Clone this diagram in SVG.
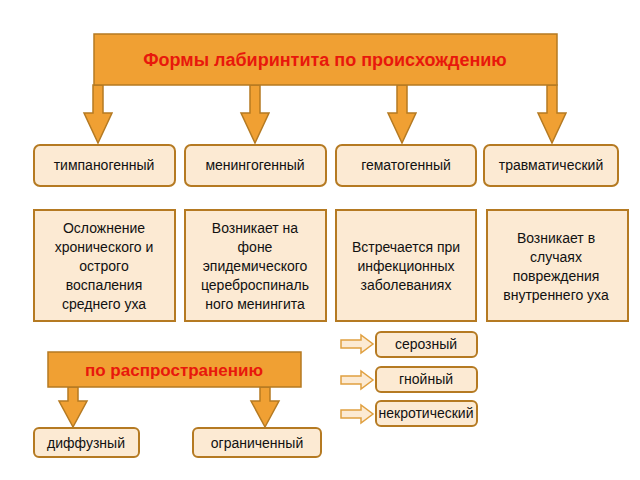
<svg xmlns="http://www.w3.org/2000/svg" width="640" height="480" viewBox="0 0 640 480">
<style>
.hdr{fill:#f0a033;stroke:#b57a22;stroke-width:1.5}
.ht{font-family:"Liberation Sans",Arial,sans-serif;font-weight:bold;fill:#e8180c;text-anchor:middle}
.nb{fill:#fcead3;stroke:#b57a22;stroke-width:2}
.t{font-family:"Liberation Sans",Arial,sans-serif;font-size:14px;fill:#111;text-anchor:middle}
.ar{fill:#f0a033;stroke:#b57a22;stroke-width:1.5}
.oa{fill:#fcead3;stroke:#e0a040;stroke-width:1.5}
</style>
<rect width="640" height="480" fill="#fff"/>
<g id="connectors">
<path class="ar" d="M93,85h10v28h9l-14,30l-14,-30h9z"/>
<path class="ar" d="M250,85h10v28h9l-14,30l-14,-30h9z"/>
<path class="ar" d="M397,85h10v28h9l-14,30l-14,-30h9z"/>
<path class="ar" d="M547,85h10v28h9l-14,30l-14,-30h9z"/>
<path class="ar" d="M68,387h10v14h9l-14,26l-14,-26h9z"/>
<path class="ar" d="M260,387h10v14h9l-14,26l-14,-26h9z"/>
<path class="oa" d="M341,340h20v-5l12,9l-12,9v-5h-20z"/>
<path class="oa" d="M341,376h20v-5l12,9l-12,9v-5h-20z"/>
<path class="oa" d="M341,410h20v-5l12,9l-12,9v-5h-20z"/>
</g>
<g id="title"><rect class="hdr" x="94" y="34" width="463" height="51"/><text class="ht" x="325" y="66" font-size="18">Формы лабиринтита по происхождению</text></g>
<g id="n1"><rect class="nb" x="34" y="145" width="141" height="41" rx="6"/><text class="t" x="104" y="170">тимпаногенный</text></g>
<g id="n2"><rect class="nb" x="185" y="145" width="141" height="41" rx="6"/><text class="t" x="255" y="170">менингогенный</text></g>
<g id="n3"><rect class="nb" x="336" y="145" width="140" height="41" rx="6"/><text class="t" x="406" y="170">гематогенный</text></g>
<g id="n4"><rect class="nb" x="484" y="145" width="134" height="41" rx="6"/><text class="t" x="551" y="170">травматический</text></g>
<g id="d1"><rect class="nb" x="34" y="210" width="141" height="111"/><text class="t" x="104" y="233">Осложнение<tspan x="104" dy="19">хронического и</tspan><tspan x="104" dy="19">острого</tspan><tspan x="104" dy="19">воспаления</tspan><tspan x="104" dy="19">среднего уха</tspan></text></g>
<g id="d2"><rect class="nb" x="185" y="210" width="141" height="111"/><text class="t" x="255" y="233">Возникает на<tspan x="255" dy="19">фоне</tspan><tspan x="255" dy="19">эпидемического</tspan><tspan x="255" dy="19">цереброспиналь</tspan><tspan x="255" dy="19">ного менингита</tspan></text></g>
<g id="d3"><rect class="nb" x="336" y="210" width="140" height="111"/><text class="t" x="406" y="252">Встречается при<tspan x="406" dy="19">инфекционных</tspan><tspan x="406" dy="19">заболеваниях</tspan></text></g>
<g id="d4"><rect class="nb" x="487" y="210" width="141" height="111"/><text class="t" x="556" y="243">Возникает в<tspan x="556" dy="19">случаях</tspan><tspan x="556" dy="19">повреждения</tspan><tspan x="556" dy="19">внутреннего уха</tspan></text></g>
<g id="spread"><rect class="hdr" x="48" y="352" width="253" height="35"/><text class="ht" x="174" y="376" font-size="17">по распространению</text></g>
<g id="b1"><rect class="nb" x="34" y="428" width="105" height="29" rx="5"/><text class="t" x="86" y="448">диффузный</text></g>
<g id="b2"><rect class="nb" x="193" y="428" width="128" height="29" rx="5"/><text class="t" x="257" y="448">ограниченный</text></g>
<g id="s1"><rect class="nb" x="376" y="332" width="101" height="25" rx="5"/><text class="t" x="426" y="349" font-size="13">серозный</text></g>
<g id="s2"><rect class="nb" x="376" y="367" width="101" height="25" rx="5"/><text class="t" x="426" y="384" font-size="13">гнойный</text></g>
<g id="s3"><rect class="nb" x="376" y="401" width="101" height="25" rx="5"/><text class="t" x="426" y="418" font-size="12">некротический</text></g>
</svg>
